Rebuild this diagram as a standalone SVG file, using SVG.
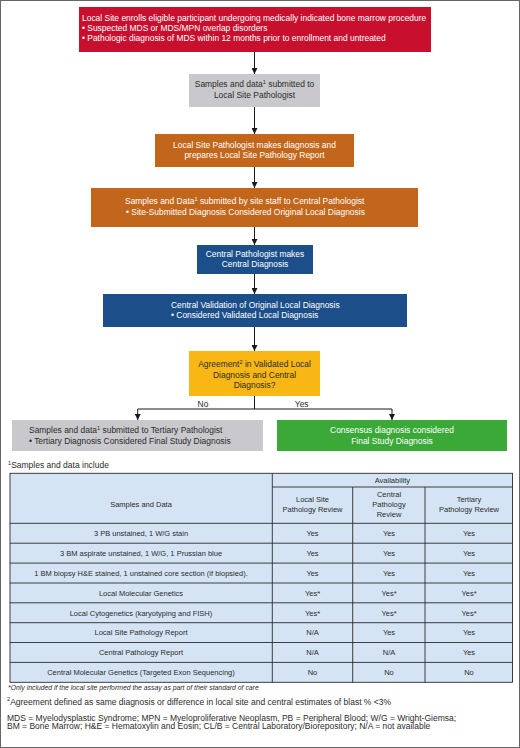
<svg xmlns="http://www.w3.org/2000/svg" width="520" height="748" viewBox="0 0 520 748">
<defs>
<marker id="ah" viewBox="0 0 10 10" refX="10" refY="5" markerWidth="6" markerHeight="6" markerUnits="userSpaceOnUse" orient="auto">
<path d="M0,0 L10,5 L0,10 z" fill="#1a1a1a"/>
</marker>
<style>
text{font-family:"Liberation Sans",Arial,sans-serif;}
.w{fill:#ffffff;font-size:8.45px;}
.d{fill:#2b2b2b;font-size:8.45px;}
.c{text-anchor:middle;}
.sup{font-size:5.6px;}
.conn{stroke:#1a1a1a;stroke-width:1;fill:none;}
.tb{fill:#d5e4f5;stroke:#2a2a2a;stroke-width:0.9;}
.tt{fill:#2b2b2b;font-size:7.5px;text-anchor:middle;}
.fn{fill:#2b2b2b;font-size:8.5px;}
.it{font-style:italic;font-size:6.85px;}
</style>
</defs>
<rect x="0.5" y="0.5" width="519" height="747" fill="#ffffff" stroke="#666666" stroke-width="1"/>

<g id="connectors">
<line class="conn" x1="254.5" y1="52" x2="254.5" y2="74" marker-end="url(#ah)"/>
<line class="conn" x1="254.5" y1="107" x2="254.5" y2="134" marker-end="url(#ah)"/>
<line class="conn" x1="254.5" y1="167" x2="254.5" y2="188" marker-end="url(#ah)"/>
<line class="conn" x1="254.5" y1="227" x2="254.5" y2="245" marker-end="url(#ah)"/>
<line class="conn" x1="254.5" y1="274" x2="254.5" y2="294" marker-end="url(#ah)"/>
<line class="conn" x1="254.5" y1="327" x2="254.5" y2="351" marker-end="url(#ah)"/>
<line class="conn" x1="254.5" y1="396" x2="254.5" y2="409"/>
<line class="conn" x1="137.7" y1="409" x2="392" y2="409"/>
<line class="conn" x1="137.7" y1="409" x2="137.7" y2="420" marker-end="url(#ah)"/>
<line class="conn" x1="392" y1="409" x2="392" y2="420" marker-end="url(#ah)"/>
<text class="d c" x="203" y="406.5">No</text>
<text class="d c" x="301.7" y="406.5">Yes</text>
</g>

<g id="enroll">
<rect x="79" y="7" width="352" height="45" fill="#c8102e"/>
<text class="w" x="82" y="21">Local Site enrolls eligible participant undergoing medically indicated bone marrow procedure</text>
<text class="w" x="82" y="31">• Suspected MDS or MDS/MPN overlap disorders</text>
<text class="w" x="82" y="41">• Pathologic diagnosis of MDS within 12 months prior to enrollment and untreated</text>
</g>

<g id="submit-local">
<rect x="189" y="74" width="131" height="33" fill="#c9c9cd"/>
<text class="d c" x="254.5" y="87">Samples and data<tspan class="sup" dy="-3">1</tspan><tspan dy="3"> submitted to</tspan></text>
<text class="d c" x="254.5" y="97.5">Local Site Pathologist</text>
</g>

<g id="local-diagnosis">
<rect x="155" y="134" width="199" height="33" fill="#c2661b"/>
<text class="w c" x="254.5" y="147.5">Local Site Pathologist makes diagnosis and</text>
<text class="w c" x="254.5" y="157.5">prepares Local Site Pathology Report</text>
</g>

<g id="submit-central">
<rect x="91" y="188" width="327" height="39" fill="#c2661b"/>
<text class="w" x="125" y="204">Samples and Data<tspan class="sup" dy="-3">1</tspan><tspan dy="3"> submitted by site staff to Central Pathologist</tspan></text>
<text class="w" x="126" y="214.5">• Site-Submitted Diagnosis Considered Original Local Diagnosis</text>
</g>

<g id="central-diagnosis">
<rect x="197" y="245" width="116" height="29" fill="#1c4f8a"/>
<text class="w c" x="255" y="256.5">Central Pathologist makes</text>
<text class="w c" x="255" y="267">Central Diagnosis</text>
</g>

<g id="central-validation">
<rect x="103" y="294" width="304" height="33" fill="#1c4f8a"/>
<text class="w" x="171" y="307.5">Central Validation of Original Local Diagnosis</text>
<text class="w" x="171" y="317.5">• Considered Validated Local Diagnosis</text>
</g>

<g id="agreement">
<rect x="189" y="351" width="131" height="45" fill="#f9b715"/>
<text class="d c" x="254.5" y="367">Agreement<tspan class="sup" dy="-3">2</tspan><tspan dy="3"> in Validated Local</tspan></text>
<text class="d c" x="254.5" y="377.5">Diagnosis and Central</text>
<text class="d c" x="254.5" y="388">Diagnosis?</text>
</g>

<g id="tertiary">
<rect x="12" y="420" width="251" height="31" fill="#c9c9cd"/>
<text class="d" x="29" y="433">Samples and data<tspan class="sup" dy="-3">1</tspan><tspan dy="3"> submitted to Tertiary Pathologist</tspan></text>
<text class="d" x="29" y="443.5">• Tertiary Diagnosis Considered Final Study Diagnosis</text>
</g>

<g id="consensus">
<rect x="277" y="420" width="230" height="31" fill="#3aa938"/>
<text class="w c" x="392" y="433">Consensus diagnosis considered</text>
<text class="w c" x="392" y="443.5">Final Study Diagnosis</text>
</g>

<g id="table">
<text class="fn" x="8" y="468.3"><tspan class="sup" dy="-3">1</tspan><tspan dy="3">Samples and data include</tspan></text>
<rect class="tb" x="10" y="473.3" width="502.5" height="209"/>
<g stroke="#2a2a2a" stroke-width="0.9">
<line x1="272.3" y1="473.3" x2="272.3" y2="682.3"/>
<line x1="352.7" y1="487" x2="352.7" y2="682.3"/>
<line x1="425" y1="487" x2="425" y2="682.3"/>
<line x1="272.3" y1="487" x2="512.5" y2="487"/>
<line x1="10" y1="523.3" x2="512.5" y2="523.3"/>
<line x1="10" y1="543.2" x2="512.5" y2="543.2"/>
<line x1="10" y1="563.1" x2="512.5" y2="563.1"/>
<line x1="10" y1="583" x2="512.5" y2="583"/>
<line x1="10" y1="602.8" x2="512.5" y2="602.8"/>
<line x1="10" y1="622.7" x2="512.5" y2="622.7"/>
<line x1="10" y1="642.5" x2="512.5" y2="642.5"/>
<line x1="10" y1="662.4" x2="512.5" y2="662.4"/>
</g>
<text class="tt" x="392.4" y="482.5">Availability</text>
<text class="tt" x="141" y="506.8">Samples and Data</text>
<text class="tt" x="312.5" y="501.7">Local Site</text>
<text class="tt" x="312.5" y="511.7">Pathology Review</text>
<text class="tt" x="389" y="496.7">Central</text>
<text class="tt" x="389" y="507">Pathology</text>
<text class="tt" x="389" y="517.2">Review</text>
<text class="tt" x="469" y="501.7">Tertiary</text>
<text class="tt" x="469" y="511.7">Pathology Review</text>

<text class="tt" x="141" y="536">3 PB unstained, 1 W/G stain</text>
<text class="tt" x="312.5" y="536">Yes</text><text class="tt" x="389" y="536">Yes</text><text class="tt" x="469" y="536">Yes</text>

<text class="tt" x="141" y="555.9">3 BM aspirate unstained, 1 W/G, 1 Prussian blue</text>
<text class="tt" x="312.5" y="555.9">Yes</text><text class="tt" x="389" y="555.9">Yes</text><text class="tt" x="469" y="555.9">Yes</text>

<text class="tt" x="141" y="575.8">1 BM biopsy H&amp;E stained, 1 unstained core section (if biopsied).</text>
<text class="tt" x="312.5" y="575.8">Yes</text><text class="tt" x="389" y="575.8">Yes</text><text class="tt" x="469" y="575.8">Yes</text>

<text class="tt" x="141" y="595.6">Local Molecular Genetics</text>
<text class="tt" x="312.5" y="595.6">Yes*</text><text class="tt" x="389" y="595.6">Yes*</text><text class="tt" x="469" y="595.6">Yes*</text>

<text class="tt" x="141" y="615.5">Local Cytogenetics (karyotyping and FISH)</text>
<text class="tt" x="312.5" y="615.5">Yes*</text><text class="tt" x="389" y="615.5">Yes*</text><text class="tt" x="469" y="615.5">Yes*</text>

<text class="tt" x="141" y="635.3">Local Site Pathology Report</text>
<text class="tt" x="312.5" y="635.3">N/A</text><text class="tt" x="389" y="635.3">Yes</text><text class="tt" x="469" y="635.3">Yes</text>

<text class="tt" x="141" y="655.2">Central Pathology Report</text>
<text class="tt" x="312.5" y="655.2">N/A</text><text class="tt" x="389" y="655.2">N/A</text><text class="tt" x="469" y="655.2">Yes</text>

<text class="tt" x="141" y="675">Central Molecular Genetics (Targeted Exon Sequencing)</text>
<text class="tt" x="312.5" y="675">No</text><text class="tt" x="389" y="675">No</text><text class="tt" x="469" y="675">No</text>
</g>

<g id="footnotes">
<text class="fn it" x="8" y="690">*Only included if the local site performed the assay as part of their standard of care</text>
<text class="fn" x="7" y="704.5"><tspan class="sup" dy="-3.3">2</tspan><tspan dy="3.3">Agreement defined as same diagnosis or difference in local site and central estimates of blast % &lt;3%</tspan></text>
<text class="fn" x="7" y="720.5">MDS = Myelodysplastic Syndrome; MPN = Myeloproliferative Neoplasm, PB = Peripheral Blood; W/G = Wright-Giemsa;</text>
<text class="fn" x="7" y="729">BM = Bone Marrow; H&amp;E = Hematoxylin and Eosin; CL/B = Central Laboratory/Biorepository; N/A = not available</text>
</g>
</svg>
